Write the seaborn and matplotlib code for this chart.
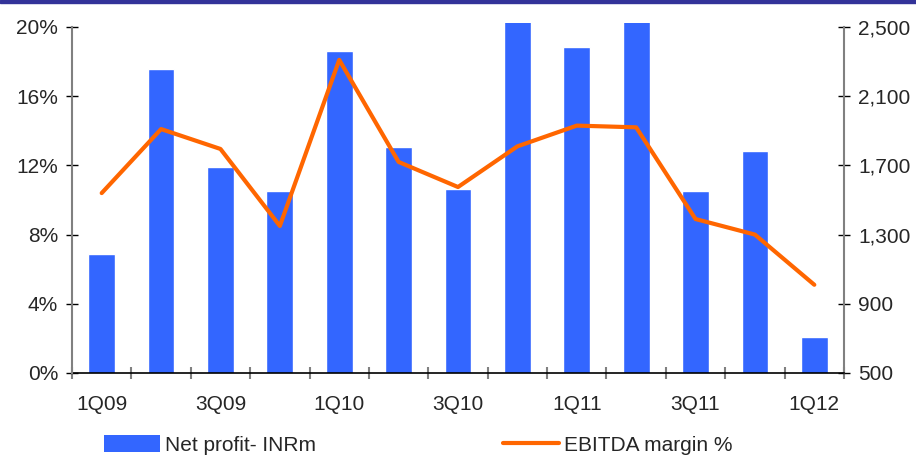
import matplotlib
matplotlib.use("Agg")
import matplotlib.pyplot as plt
from matplotlib.patches import Rectangle, Patch
from matplotlib.lines import Line2D
from matplotlib.ticker import FixedLocator, FuncFormatter
import numpy as np
import pandas as pd
import seaborn as sns

# Quarterly data
quarters = ["1Q09", "2Q09", "3Q09", "4Q09", "1Q10", "2Q10", "3Q10",
            "4Q10", "1Q11", "2Q11", "3Q11", "4Q11", "1Q12"]
net_profit = [1190, 2255, 1690, 1550, 2360, 1805, 1565,
              2560, 2385, 2560, 1550, 1785, 710]          # INRm
ebitda_margin = [10.4, 14.1, 12.95, 8.5, 18.1, 12.2, 10.75,
                 13.1, 14.3, 14.2, 8.9, 8.0, 5.1]          # %
label_quarters = quarters[::2]

BAR_COLOR = "#3366FF"
LINE_COLOR = "#FF6600"

sns.set_style("white")
plt.rcParams["font.family"] = ["Liberation Sans", "DejaVu Sans"]
plt.rcParams["font.size"] = 15

df = pd.DataFrame({"quarter": quarters, "profit": net_profit,
                   "margin": ebitda_margin})

fig = plt.figure(figsize=(9.16, 4.55), dpi=100)
ax = fig.add_axes([72 / 916, 1 - 373 / 455, 772 / 916, 350 / 455])

# Net profit bars (right-hand scale)
sns.barplot(data=df, x="quarter", y="profit", color=BAR_COLOR,
            saturation=1, width=0.45, ax=ax, order=quarters)
ax.set_ylim(500, 500 + 2000 * 350 / 346)
ax.set_xlim(-0.5, len(quarters) - 0.5)

# EBITDA margin line (left-hand scale)
ax2 = ax.twinx()
sns.lineplot(x=np.arange(len(quarters)), y=ebitda_margin, color=LINE_COLOR,
             linewidth=3, ax=ax2, sort=False)
ax2.set_ylim(0, 20 * 350 / 346)

# Axis placement: bars scale on the right, margin scale on the left
ax.yaxis.tick_right()
ax.yaxis.set_label_position("right")
ax2.yaxis.tick_left()
ax2.yaxis.set_label_position("left")

ax.set_yticks([500, 900, 1300, 1700, 2100, 2500])
ax.yaxis.set_major_formatter(FuncFormatter(lambda v, p: f"{int(v):,}"))
ax2.set_yticks([0, 4, 8, 12, 16, 20])
ax2.yaxis.set_major_formatter(FuncFormatter(lambda v, p: f"{int(v)}%"))

for a in (ax, ax2):
    a.set_xlabel("")
    a.set_ylabel("")
    for s in a.spines.values():
        s.set_visible(False)

ax.spines["bottom"].set_visible(True)
ax.spines["bottom"].set_color("black")
ax.spines["bottom"].set_linewidth(1.2)
ax.spines["right"].set_visible(True)
ax.spines["right"].set_color("#808080")
ax.spines["right"].set_linewidth(1.5)
ax.spines["right"].set_bounds(500, 2500)
ax2.spines["left"].set_visible(True)
ax2.spines["left"].set_color("#808080")
ax2.spines["left"].set_linewidth(1.5)
ax2.spines["left"].set_bounds(0, 20)

ax.tick_params(axis="y", which="major", direction="inout", length=8,
               width=1, color="black", pad=6, labelsize=15, right=True, left=False)
ax2.tick_params(axis="y", which="major", direction="inout", length=8,
                width=1, color="black", pad=6, labelsize=15, left=True, right=False)

# Category labels on every other quarter, separators between quarters
ax.xaxis.set_major_locator(FixedLocator(range(0, len(quarters), 2)))
ax.set_xticklabels(label_quarters)
ax.xaxis.set_minor_locator(FixedLocator(np.arange(-0.5, len(quarters), 1.0)))
ax.tick_params(axis="x", which="major", length=0, pad=16, labelsize=15)
ax.tick_params(axis="x", which="minor", direction="inout", length=8,
               width=1.5, color="#808080", bottom=True)
ax2.tick_params(axis="x", which="both", length=0, labelbottom=False)

# Legend along the bottom edge
handles = [Patch(facecolor=BAR_COLOR, edgecolor="none", label="Net profit- INRm"),
           Line2D([0], [0], color=LINE_COLOR, linewidth=3, label="EBITDA margin %")]
fig.legend(handles=handles, loc="center left", ncol=2, frameon=False,
           bbox_to_anchor=(104 / 916, 1 - 445 / 455), fontsize=15,
           handlelength=2.7, handleheight=0.9, handletextpad=0.25,
           columnspacing=8.95, borderaxespad=0, borderpad=0)

# Header rule
fig.add_artist(Rectangle((0, 1 - 3 / 455), 1, 3 / 455, color="#333399",
                         transform=fig.transFigure, zorder=10))

fig.savefig("out.png", dpi=100)
